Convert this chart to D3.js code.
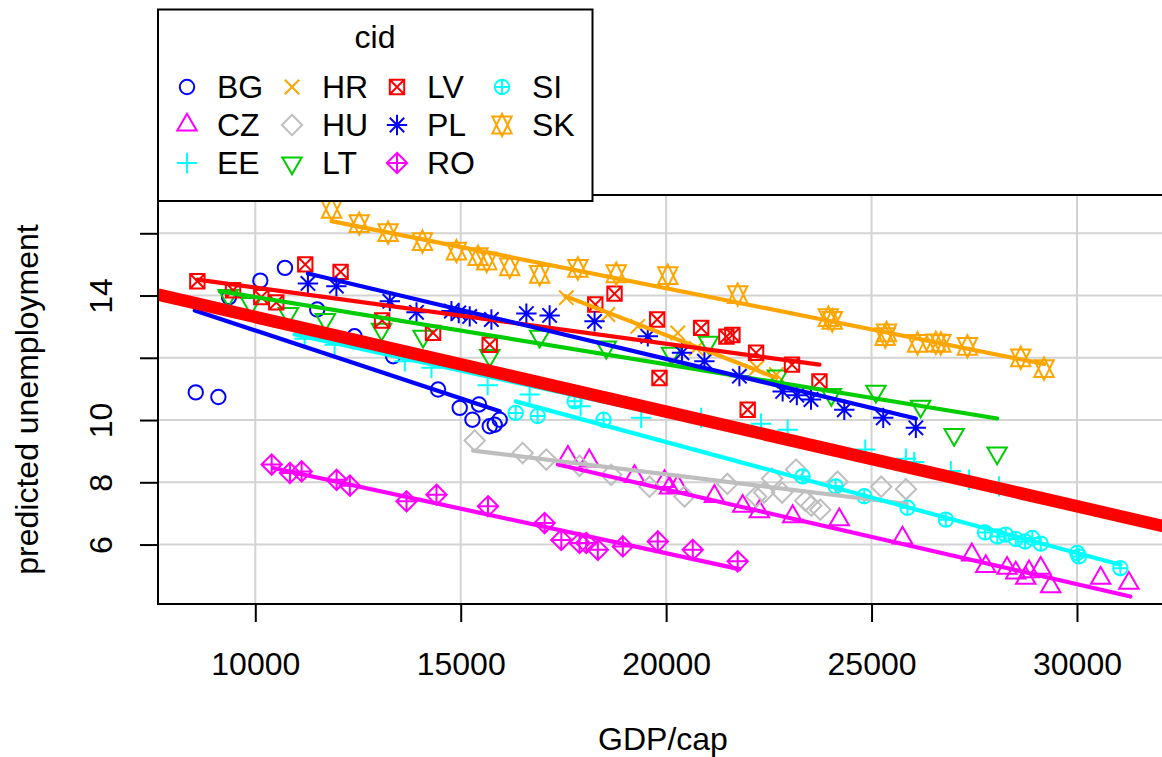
<!DOCTYPE html>
<html>
<head>
<meta charset="utf-8">
<title>predicted unemployment by GDP/cap</title>
<script src="https://d3js.org/d3.v7.min.js"></script>
<style>
html, body { margin:0; padding:0; background:#fff; }
svg { display:block; font-family:'Liberation Sans', Arial, sans-serif; font-size:32px; }
.grid line { stroke:#d3d3d3; stroke-width:2px; }
.pt { fill:none; stroke-width:2px; }
.fit { fill:none; stroke-width:4.2px; stroke-linecap:round; }
.axis line { stroke:#000; stroke-width:2px; }
.axis text { font-size:32px; fill:#000; }
</style>
</head>
<body>
<svg width="1162" height="757"></svg>
<script>

// country ids, in legend order
var cid = ["BG", "CZ", "EE", "HR", "HU", "LT", "LV", "PL", "RO", "SI", "SK"];

// [GDP/cap, predicted unemployment] per country
var BG = [[8551,10.89],[9101,10.74],[9361,13.95],[10122,14.48],[10722,14.89],[11507,13.55],[12416,12.69],
  [13355,12.05],[14449,10.98],[14976,10.39],[15445,10.50],[15285,10.01],[15706,9.80],[15827,9.85],[15949,10.01]];
var CZ = [[17609,8.81],[18129,8.69],[19231,8.19],[19960,8.03],[20081,7.82],[20283,7.87],[21175,7.55],[21863,7.23],
  [22269,7.06],[23079,6.90],[24214,6.80],[25753,6.21],[27440,5.67],[27780,5.30],[28298,5.24],[28510,5.09],
  [28753,4.92],[28833,5.13],[29117,5.24],[29360,4.65],[30576,4.92],[31264,4.76]];
var EE = [[11201,12.61],[11930,12.42],[13639,11.89],[14288,11.68],[15657,11.12],[16678,10.82],[17918,10.44],
  [19393,10.07],[20852,10.07],[22310,9.88],[22957,9.69],[24846,9.05],[25836,8.76],[26038,8.65],[26930,8.36],
  [27374,8.08],[28103,7.87]];
var HR = [[17570,13.93],[18581,13.39],[19311,13.01],[20283,12.80],[20731,12.30],[22209,11.68],[22683,11.46]];
var HU = [[15341,9.34],[16508,8.94],[17084,8.73],[17893,8.53],[18664,8.24],[19595,7.86],[20446,7.54],[21491,7.95],
  [22190,7.54],[22385,7.67],[22579,8.12],[22822,7.67],[23162,8.41],[23387,7.41],[23532,7.25],[23752,7.12],
  [24172,8.02],[25235,7.86],[25837,7.78]];
var LT = [[9344,14.00],[9895,13.74],[10807,13.42],[11707,13.23],[13073,12.91],[14084,12.69],[15706,12.07],
  [16921,12.69],[18543,12.34],[20130,12.14],[21030,12.50],[22707,11.41],[24020,10.82],[25106,10.92],
  [26194,10.44],[27010,9.53],[28056,8.94]];
var LV = [[8590,14.46],[9458,14.17],[10146,13.95],[10511,13.78],[11216,15.00],[12076,14.76],[13087,13.20],
  [14327,12.80],[15706,12.42],[18275,13.71],[18744,14.06],[19782,13.23],[19838,11.35],[20852,12.96],
  [21467,12.68],[21613,12.73],[21985,10.33],[22189,12.16],[23064,11.78],[23732,11.24]];
var PL = [[11281,14.39],[11974,14.30],[13275,13.82],[13924,13.46],[14774,13.50],[14952,13.44],[15219,13.33],
  [15747,13.23],[16598,13.42],[17164,13.36],[18258,13.17],[19554,12.69],[20385,12.16],[20932,11.89],
  [21783,11.41],[22836,10.92],[23181,10.80],[23526,10.66],[24336,10.33],[25284,10.07],[26078,9.75]];
var RO = [[10399,8.57],[10844,8.30],[11128,8.35],[11979,8.08],[12302,7.89],[13681,7.39],[14410,7.60],[15664,7.23],
  [17043,6.69],[17449,6.15],[17893,6.05],[18056,6.05],[18338,5.83],[18946,5.94],[19797,6.10],[20648,5.83],
  [21742,5.46]];
var SI = [[16338,10.23],[16872,10.13],[17772,10.60],[18477,10.01],[23322,8.19],[24124,7.87],[24822,7.55],
  [25875,7.18],[26808,6.80],[27763,6.39],[28062,6.26],[28266,6.32],[28510,6.18],[28736,6.10],[28913,6.21],
  [29117,6.03],[30006,5.73],[30048,5.62],[31056,5.24]];
var SK = [[11857,16.77],[12528,16.31],[13233,16.02],[14069,15.73],[14896,15.43],[15421,15.25],[15633,15.11],
  [16192,14.92],[16921,14.68],[17852,14.87],[18786,14.70],[20040,14.64],[21742,14.03],[23947,13.29],
  [24044,13.20],[25364,12.80],[25332,12.68],[26118,12.46],[26565,12.48],[26686,12.46],[27333,12.37],
  [28631,12.00],[29198,11.65]];

// per-country fitted lines: [x0, y0, x1, y1]
var fits = [[8527,13.52,15949,10.28],[17366,8.57,31300,4.33],[10958,12.75,28225,7.79],[17546,13.98,22683,11.36],
  [15300,9.02,25837,7.31],[9135,14.14,28056,10.05],[8590,14.51,23732,11.78],[11281,14.71,26078,10.05],
  [10438,8.46,21782,5.21],[16338,10.60,31056,5.35],[11857,16.39,29198,11.80]];

// pooled line: intercept, slope
var pooled = [16.35, -0.000304];

var xTicks = [10000, 15000, 20000, 25000, 30000];
var yTicks = [6, 8, 10, 12, 14, 16];
var yLabelled = [6, 8, 10, 14];

var series = [BG, CZ, EE, HR, HU, LT, LV, PL, RO, SI, SK];
var colors = ["#0000ff", "#ff00ff", "#00ffff", "#ffa500", "#bebebe", "#00cd00", "#ff0000",
              "#0000ff", "#ff00ff", "#00ffff", "#ffa500"];
var pchs = [1, 2, 3, 4, 5, 6, 7, 8, 9, 10, 11];

var svg = d3.select("svg");
var pLeft = 158, pTop = 195, pRight = 1168, pBottom = 604;

var x = d3.scaleLinear().domain([7632, 7632 + 24.34 * (pRight - pLeft)]).range([pLeft, pRight]);
var y = d3.scaleLinear().domain([4.09, 17.23]).range([pBottom, pTop]);

// R style plotting symbols, centred on 0,0
function pchPath(p, r) {
  var s2 = Math.SQRT2 * r, t0 = 1.5551 * r, t1 = 1.3468 * r, t2 = 0.7776 * r;
  function circ(q) { return "M" + q + ",0A" + q + "," + q + " 0 1,1 " + (-q) + ",0A" + q + "," + q + " 0 1,1 " + q + ",0Z"; }
  function plus(h) { return "M" + (-h) + ",0H" + h + "M0," + (-h) + "V" + h; }
  function cross(h) { return "M" + (-h) + "," + (-h) + "L" + h + "," + h + "M" + (-h) + "," + h + "L" + h + "," + (-h); }
  function diamond(h) { return "M0," + (-h) + "L" + h + ",0L0," + h + "L" + (-h) + ",0Z"; }
  switch (p) {
    case 1: return circ(r);
    case 2: return "M0," + (-t0) + "L" + t1 + "," + t2 + "L" + (-t1) + "," + t2 + "Z";
    case 3: return plus(s2);
    case 4: return cross(r);
    case 5: return diamond(s2);
    case 6: return "M0," + t0 + "L" + t1 + "," + (-t2) + "L" + (-t1) + "," + (-t2) + "Z";
    case 7: return "M" + (-r) + "," + (-r) + "H" + r + "V" + r + "H" + (-r) + "Z" + cross(r);
    case 8: return cross(r) + plus(s2);
    case 9: return diamond(s2) + plus(s2);
    case 10: return circ(r) + plus(r);
    case 11:
      var yc = 0.5 * (t2 + t0);
      return "M0," + (-t0) + "L" + t1 + "," + yc + "L" + (-t1) + "," + yc + "Z" +
             "M0," + t0 + "L" + t1 + "," + (-yc) + "L" + (-t1) + "," + (-yc) + "Z";
  }
}
var R = 7.2;

svg.append("clipPath").attr("id", "plotclip")
  .append("rect").attr("x", pLeft).attr("y", pTop).attr("width", pRight - pLeft).attr("height", pBottom - pTop);

// grid
var grid = svg.append("g").attr("class", "grid");
grid.selectAll(".gx").data(xTicks).enter().append("line")
    .attr("x1", function(d) { return x(d); }).attr("x2", function(d) { return x(d); })
    .attr("y1", pTop).attr("y2", pBottom);
grid.selectAll(".gy").data(yTicks).enter().append("line")
    .attr("x1", pLeft).attr("x2", pRight)
    .attr("y1", function(d) { return y(d); }).attr("y2", function(d) { return y(d); });

// points
var plot = svg.append("g").attr("clip-path", "url(#plotclip)");
series.forEach(function(s, i) {
  plot.append("g").selectAll("path").data(s).enter().append("path")
      .attr("class", "pt")
      .attr("stroke", colors[i])
      .attr("d", pchPath(pchs[i], R))
      .attr("transform", function(d) { return "translate(" + x(d[0]) + "," + y(d[1]) + ")"; });
});

// per-country fits
plot.selectAll(".fit").data(fits).enter().append("line")
    .attr("class", "fit")
    .attr("stroke", function(d, i) { return colors[i]; })
    .attr("x1", function(d) { return x(d[0]); }).attr("y1", function(d) { return y(d[1]); })
    .attr("x2", function(d) { return x(d[2]); }).attr("y2", function(d) { return y(d[3]); });

// pooled fit, full width
var xd = x.domain();
plot.append("line")
    .attr("stroke", "#ff0000").attr("stroke-width", 12.5)
    .attr("x1", x(xd[0])).attr("y1", y(pooled[0] + pooled[1] * xd[0]))
    .attr("x2", x(xd[1])).attr("y2", y(pooled[0] + pooled[1] * xd[1]));

// box
svg.append("rect").attr("x", pLeft).attr("y", pTop).attr("width", pRight - pLeft).attr("height", pBottom - pTop)
    .attr("fill", "none").attr("stroke", "#000").attr("stroke-width", 2);

// axes
var xAxis = svg.append("g").attr("class", "axis").attr("transform", "translate(0," + pBottom + ")")
    .call(d3.axisBottom(x).tickValues(xTicks).tickSize(18).tickSizeOuter(0).tickFormat(d3.format("d")));
xAxis.select(".domain").remove();
xAxis.selectAll("text").attr("y", 71).attr("dy", 0);
xAxis.attr("font-family", null).attr("font-size", null);

var yAxis = svg.append("g").attr("class", "axis").attr("transform", "translate(" + pLeft + ",0)")
    .call(d3.axisLeft(y).tickValues(yTicks).tickSize(18).tickSizeOuter(0)
      .tickFormat(function(d) { return yLabelled.indexOf(d) >= 0 ? d : ""; }));
yAxis.select(".domain").remove();
yAxis.selectAll("text").attr("x", 0).attr("y", -46).attr("dy", 0)
    .attr("text-anchor", "middle").attr("transform", "rotate(-90)");
yAxis.attr("font-family", null).attr("font-size", null);

svg.append("text").attr("x", 663).attr("y", 750).attr("text-anchor", "middle").text("GDP/cap");
svg.append("text").attr("transform", "translate(38," + ((pTop + pBottom) / 2) + ") rotate(-90)")
    .attr("text-anchor", "middle").text("predicted unemployment");

// legend
var lg = svg.append("g");
lg.append("rect").attr("x", 158).attr("y", 9.5).attr("width", 434.5).attr("height", 191.5)
    .attr("fill", "#fff").attr("stroke", "#000").attr("stroke-width", 2);
lg.append("text").attr("x", 375).attr("y", 48).attr("text-anchor", "middle").text("cid");
var item = lg.selectAll(".item").data(cid).enter().append("g")
    .attr("transform", function(d, i) {
      return "translate(" + (187 + 105 * Math.floor(i / 3)) + "," + (87 + 38 * (i % 3)) + ")";
    });
item.append("path").attr("class", "pt")
    .attr("stroke", function(d, i) { return colors[i]; })
    .attr("d", function(d, i) { return pchPath(pchs[i], R); });
item.append("text").attr("x", 30).attr("y", 11).text(function(d) { return d; });

</script>
</body>
</html>
